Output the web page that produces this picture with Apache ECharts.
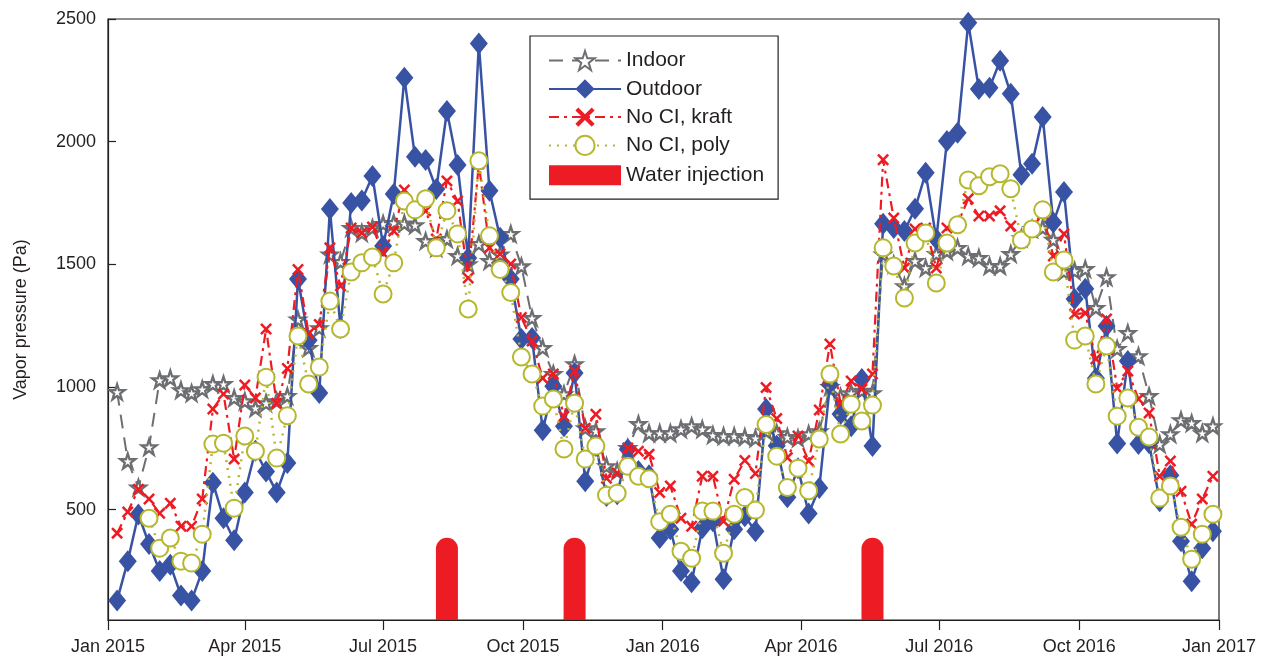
<!DOCTYPE html>
<html><head><meta charset="utf-8">
<script src="https://cdn.jsdelivr.net/npm/echarts@6/dist/echarts.min.js"></script>
<style>html,body{margin:0;padding:0;background:#fff}#c{width:1274px;height:659px}</style>
</head><body><div id="c"></div>
<script>
// Weekly sampling dates (first sample 2015-01-07, one per week)
const firstSample = '2015-01-07';
const sampleCount = 104;

const indoor = [980,698,590,755,1028,1036,987,975,991,1012,1012,955,942,914,934,942,963,1275,1159,1240,
1540,1510,1648,1628,1648,1665,1669,1667,1660,1595,1567,1603,1534,1501,1583,1514,1540,1624,1492,1281,
1159,1053,971,1093,832,820,677,657,751,849,812,812,812,828,840,828,804,800,800,796,
791,820,812,796,791,808,820,1000,960,975,985,975,1540,1500,1411,1514,1485,1542,1554,1567,
1534,1526,1493,1493,1542,1607,1644,1648,1600,1470,1473,1481,1322,1448,1155,1220,1126,963,767,808,
865,853,812,840];

const outdoor = [130,290,480,360,250,275,150,130,250,610,465,375,570,740,655,570,690,1440,1190,975,
1725,1240,1750,1760,1860,1575,1787,2260,1938,1925,1807,2125,1905,1526,2400,1800,1608,1440,1195,1200,
824,1003,840,1057,616,759,555,563,746,657,640,384,420,250,204,424,453,216,420,473,
412,910,760,550,669,484,588,1010,890,840,1032,759,1665,1648,1636,1726,1873,1603,2003,2036,
2485,2215,2220,2330,2195,1865,1910,2101,1670,1795,1359,1400,1036,1248,770,1106,767,771,534,640,
371,208,343,412];

const kraft = [404,490,583,543,485,526,432,432,543,910,971,706,1008,955,1236,934,1075,1479,1218,1255,
1567,1412,1648,1628,1652,1545,1636,1803,1726,1718,1603,1840,1758,1444,1909,1567,1542,1501,1283,1187,
1036,1053,881,1065,832,889,628,649,751,738,726,570,596,465,432,636,636,453,624,700,
647,998,871,712,800,698,906,1175,934,1024,991,1053,1926,1689,1485,1644,1648,1485,1648,1665,
1767,1697,1697,1718,1656,1595,1648,1705,1534,1624,1297,1301,1114,1277,995,1065,951,894,636,698,
575,441,543,636];

const poly = [null,null,null,465,343,384,290,282,400,767,771,506,800,738,1040,710,883,1208,1012,1081,
1350,1236,1469,1506,1530,1379,1506,1758,1722,1767,1567,1718,1624,1318,1922,1616,1479,1385,1122,1053,
922,951,747,934,706,759,559,567,677,636,626,451,481,330,302,494,494,322,481,549,
498,847,718,590,669,577,788,1053,808,930,861,926,1567,1493,1363,1587,1628,1424,1587,1661,
1844,1820,1857,1869,1808,1599,1644,1722,1469,1518,1191,1208,1012,1167,881,955,836,796,547,596,
428,298,400,481];

const injectionDates = ['2015-08-12','2015-11-04','2016-05-18'];
const injectionValues = [385,385,385];

const xTickDates = ['2015-01-01','2015-04-01','2015-07-01','2015-10-01','2016-01-01','2016-04-01','2016-07-01','2016-10-01','2017-01-01'];
const xTickLabels = ['Jan 2015','Apr 2015','Jul 2015','Oct 2015','Jan 2016','Apr 2016','Jul 2016','Oct 2016','Jan 2017'];
const yTicks = [500,1000,1500,2000,2500];

const toMs = s => Date.parse(s + 'T00:00:00Z');
const DAY = 86400000;
const dates = [];
for (let i = 0; i < sampleCount; i++) dates.push(toMs(firstSample) + i * 7 * DAY);
const pair = arr => arr.map((v, i) => [dates[i], v]);
const tickMs = xTickDates.map(toMs);
const labelOf = {};
tickMs.forEach((t, i) => labelOf[t] = xTickLabels[i]);

const TXT = '#231f20';
const FONT = '"Liberation Sans", Arial, sans-serif';
const starPath = 'path://M50,0 L61.8,35.4 L99,35.4 L69,57.3 L80.4,92.7 L50,70.8 L19.6,92.7 L31,57.3 L1,35.4 L38.2,35.4 Z';
const xPath = 'path://M0,15 L15,0 L50,35 L85,0 L100,15 L65,50 L100,85 L85,100 L50,65 L15,100 L0,85 L35,50 Z';
// legend rectangle for water injection: 72x20 box inside a 72x24 frame
const rectIcon = 'path://M0,0 L0.01,0 Z M0,2 L72,2 L72,22 L0,22 Z M0,24 L0.01,24 Z';

const chart = echarts.init(document.getElementById('c'), null, {renderer: 'canvas'});
chart.setOption({
  animation: false,
  backgroundColor: '#fff',
  textStyle: {fontFamily: FONT, color: TXT},
  grid: {left: 108, right: 55, top: 19, bottom: 39, show: true, borderColor: TXT, borderWidth: 1.2, containLabel: false},
  legend: {
    orient: 'vertical', left: 530, top: 36,
    backgroundColor: '#fff', borderColor: TXT, borderWidth: 1.2,
    padding: [14, 14, 12, 18],
    itemWidth: 72, itemHeight: 24, itemGap: 7.2,
    textStyle: {fontSize: 21, color: TXT, fontFamily: FONT},
    data: ['Indoor', 'Outdoor', 'No CI, kraft', 'No CI, poly', {name: 'Water injection', icon: rectIcon}]
  },
  xAxis: {
    type: 'value', min: toMs('2015-01-01'), max: toMs('2017-01-01'),
    axisLine: {lineStyle: {color: TXT, width: 1.2}},
    axisTick: {show: true, customValues: tickMs, length: 10, inside: false, lineStyle: {color: TXT, width: 1.2}},
    axisLabel: {customValues: tickMs, formatter: v => labelOf[v] || '', fontSize: 18, color: TXT, margin: 18, fontFamily: FONT},
    splitLine: {show: false}
  },
  yAxis: {
    type: 'value', min: 50, max: 2500,
    name: 'Vapor pressure (Pa)', nameLocation: 'middle', nameGap: 78, nameRotate: 90,
    nameTextStyle: {fontSize: 18, color: TXT, fontFamily: FONT},
    axisLine: {show: true, lineStyle: {color: TXT, width: 1.2}},
    axisTick: {show: true, inside: true, length: 8, customValues: yTicks, lineStyle: {color: TXT, width: 1.2}},
    axisLabel: {customValues: yTicks, formatter: v => String(v), fontSize: 18, color: TXT, margin: 12, fontFamily: FONT},
    splitLine: {show: false}
  },
  series: [
    {
      name: 'Water injection', type: 'bar', data: injectionDates.map((d, i) => [toMs(d), injectionValues[i]]),
      barWidth: 22, itemStyle: {color: '#ed1c24', borderRadius: [11, 11, 0, 0]}, z: 1
    },
    {
      name: 'Indoor', type: 'line', data: pair(indoor),
      symbol: starPath, symbolSize: 15,
      lineStyle: {color: '#6d6e71', width: 2, type: [14, 9]},
      itemStyle: {color: '#ffffff', borderColor: '#6d6e71', borderWidth: 2.3},
      z: 2
    },
    {
      name: 'Outdoor', type: 'line', data: pair(outdoor),
      symbol: 'diamond', symbolSize: [18, 22],
      lineStyle: {color: '#3953a4', width: 2.5},
      itemStyle: {color: '#3953a4'},
      z: 3
    },
    {
      name: 'No CI, kraft', type: 'line', data: pair(kraft),
      symbol: xPath, symbolSize: 12,
      lineStyle: {color: '#ed1c24', width: 2.2, type: [10, 5, 3, 5]},
      itemStyle: {color: '#ed1c24'},
      z: 4
    },
    {
      name: 'No CI, poly', type: 'line', data: pair(poly), connectNulls: false,
      symbol: 'emptyCircle', symbolSize: 17,
      lineStyle: {color: '#b5b82e', width: 2.5, type: [2, 6]},
      itemStyle: {color: '#b5b82e', borderColor: '#b5b82e', borderWidth: 2.5},
      z: 5
    }
  ]
});
</script>
</body></html>
